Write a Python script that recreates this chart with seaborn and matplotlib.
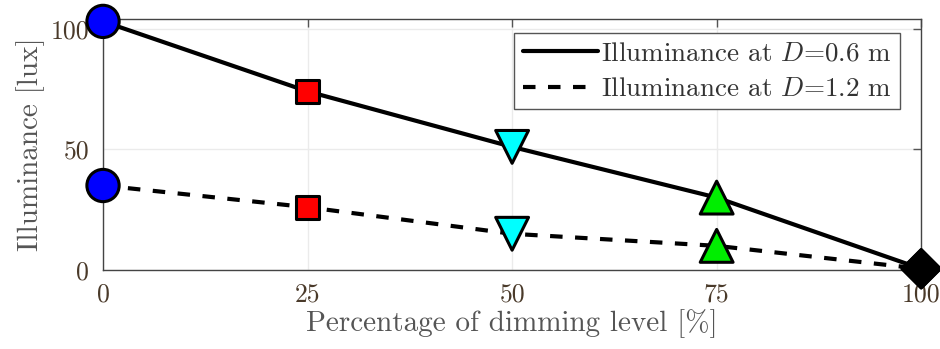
import matplotlib
matplotlib.use("Agg")
import matplotlib.pyplot as plt
import seaborn as sns
import pandas as pd

dimming = [0, 25, 50, 75, 100]
lux_06 = [103, 74, 51, 30, 0.5]
lux_12 = [35, 26, 15, 10, 0.5]
series_labels = ["Illuminance at $D$=0.6 m", "Illuminance at $D$=1.2 m"]
x_ticks = [0, 25, 50, 75, 100]
y_ticks = [0, 50, 100]

sns.set_theme(style="whitegrid")
plt.rcParams["font.family"] = ["cmr10", "DejaVu Serif"]
plt.rcParams["mathtext.fontset"] = "cm"
plt.rcParams["axes.formatter.use_mathtext"] = True

df = pd.DataFrame({
    "dim": dimming * 2,
    "lux": lux_06 + lux_12,
    "series": [series_labels[0]] * 5 + [series_labels[1]] * 5,
    "level": [str(d) for d in dimming] * 2,
})

fig = plt.figure(figsize=(9.4, 3.49), dpi=100)
ax = fig.add_axes([0.1096, 0.2264, 0.8704, 0.7192])

sns.lineplot(data=df, x="dim", y="lux", style="series", ax=ax, color="black",
             linewidth=3, dashes={series_labels[0]: "", series_labels[1]: (3.0, 3.0)},
             legend=True, zorder=3)

markers = {"0": "o", "25": "s", "50": "v", "75": "^", "100": "D"}
palette = {"0": "#0000ff", "25": "#ff0000", "50": "#00ffff", "75": "#00ee00", "100": "black"}
sizes = {"0": 540, "25": 280, "50": 560, "75": 560, "100": 380}
sns.scatterplot(data=df, x="dim", y="lux", hue="level", style="level", size="level",
                markers=markers, palette=palette, sizes=sizes, ax=ax,
                edgecolor="black", linewidth=2.2, legend=False, zorder=5, clip_on=False)

ax.set_xlim(0, 100)
ax.set_ylim(0, 104)
ax.set_xticks(x_ticks)
ax.set_yticks(y_ticks)
ax.set_xticklabels([str(t) for t in x_ticks])
ax.set_yticklabels([str(t) for t in y_ticks])
ax.tick_params(axis="both", labelsize=18.5, colors="#555555", labelcolor="#4a3a2a",
               direction="in", length=6, width=1, top=True, right=True)
ax.tick_params(axis="x", pad=9)
ax.tick_params(axis="y", pad=10)
ax.grid(True, color="#ebebeb", linewidth=1)
for s in ax.spines.values():
    s.set_color("#444444")
    s.set_linewidth(1)
ax.set_xlabel("Percentage of dimming level [%]", fontsize=21, color="#555555", labelpad=2)
ax.set_ylabel("Illuminance [lux]", fontsize=21, color="#555555", labelpad=4)

handles, labels = ax.get_legend_handles_labels()
leg = ax.legend(handles=handles, labels=labels, loc="upper right", fontsize=19.5,
                frameon=True, fancybox=False, edgecolor="#555555", framealpha=1,
                handlelength=2.8, handletextpad=0.1, borderpad=0.3, labelspacing=0.45,
                borderaxespad=0, bbox_to_anchor=(0.974, 0.944))
for t in leg.get_texts():
    t.set_color("#333333")

fig.savefig("out.png", dpi=100)
